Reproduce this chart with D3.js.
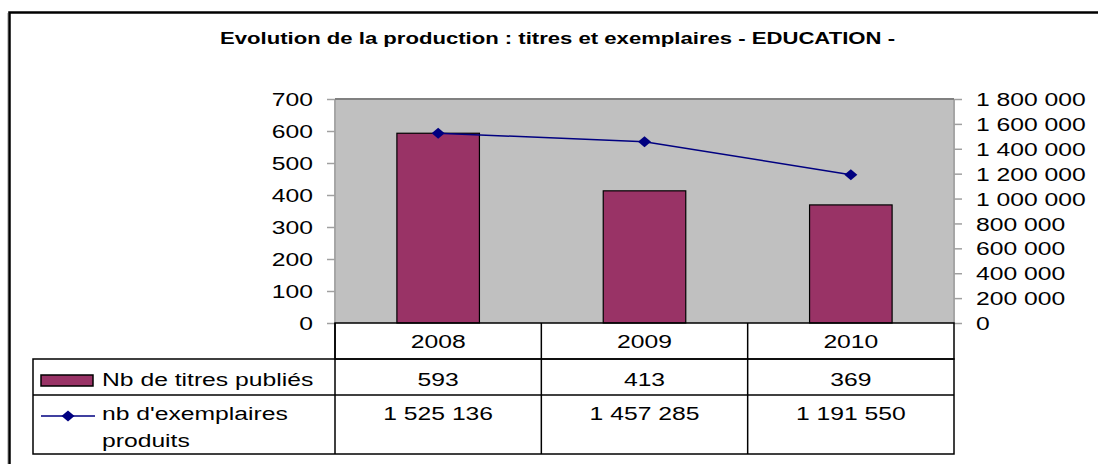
<!DOCTYPE html>
<meta charset="utf-8">
<style>
  body { margin: 0; background: #fff; }
  text { font-family: "Liberation Sans", Arial, sans-serif; fill: #000; }
</style>

<svg width="1098" height="464"></svg>

<script src="https://d3js.org/d3.v7.min.js"></script>
<script>

var years = ["2008", "2009", "2010"]
var titres = [593, 413, 369]
var exemplaires = [1525136, 1457285, 1191550]
var seriesNames = ["Nb de titres publiés", "nb d'exemplaires", "produits"]
var title = "Evolution de la production : titres et exemplaires - EDUCATION -"

var svg = d3.select('svg')
var fr = d3.formatLocale({ decimal: ",", thousands: " ", grouping: [3], currency: ["", " €"] })
var fmt = fr.format(",d")

// excel text looks stretched sideways
var SX = 1.3
function place(sel, x, y) {
  return sel.attr('transform', 'translate(' + x + ',' + y + ') scale(' + SX + ',1)')
}

// outer frame (goes off the picture right and bottom)
svg.append('line').attr('x1', 7.5).attr('x2', 7.5).attr('y1', 13).attr('y2', 464)
  .attr('stroke', '#c8c8c8').attr('stroke-width', 1)
svg.append('rect')
  .attr('x', 9.5).attr('y', 12.5)
  .attr('width', 1200).attr('height', 600)
  .attr('fill', 'none').attr('stroke', '#000').attr('stroke-width', 2.5)

// title is spread out wider than normal
svg.append('text')
  .attr('x', 220).attr('y', 44)
  .attr('font-size', 16.5)
  .attr('font-weight', 'bold')
  .attr('textLength', 675)
  .attr('lengthAdjust', 'spacingAndGlyphs')
  .text(title)

var plotL = 335, plotR = 954, plotT = 99, plotB = 323

var x = d3.scaleBand().domain(years).range([plotL, plotR])
var yL = d3.scaleLinear().domain([0, 700]).range([plotB, plotT])
var yR = d3.scaleLinear().domain([0, 1800000]).range([plotB, plotT])

// plot area
svg.append('rect')
  .attr('x', plotL).attr('y', plotT)
  .attr('width', plotR - plotL).attr('height', plotB - plotT)
  .attr('fill', '#c0c0c0')
svg.append('line').attr('x1', plotL).attr('x2', plotL).attr('y1', plotT).attr('y2', plotB)
  .attr('stroke', '#a6a6a6').attr('stroke-width', 2)
svg.append('line').attr('x1', plotR).attr('x2', plotR).attr('y1', plotT).attr('y2', plotB)
  .attr('stroke', '#a6a6a6').attr('stroke-width', 2)
svg.append('line').attr('x1', plotL).attr('x2', plotR).attr('y1', plotT).attr('y2', plotT)
  .attr('stroke', '#808080').attr('stroke-width', 2)

// axes
var axL = svg.append('g')
  .attr('transform', 'translate(' + plotL + ',0)')
  .call(d3.axisLeft(yL).ticks(7).tickSize(8).tickFormat(fmt))
var axR = svg.append('g')
  .attr('transform', 'translate(' + plotR + ',0)')
  .call(d3.axisRight(yR).ticks(9).tickSize(8).tickFormat(fmt))

;[axL, axR].forEach(function (ax) {
  ax.select('.domain').remove()
  ax.selectAll('.tick line').attr('stroke', '#a0a0a0').attr('stroke-width', 1.5)
})
axL.selectAll('.tick text').each(function () {
  var t = d3.select(this)
  t.attr('x', null).attr('dy', '0.35em').attr('font-size', 19)
  place(t, -22, 0)
})
axR.selectAll('.tick text').each(function () {
  var t = d3.select(this)
  t.attr('x', null).attr('dy', '0.35em').attr('font-size', 19)
  place(t, 22, 0)
})
svg.selectAll('g').attr('font-family', null).attr('font-size', null)

// bars
var bw = x.bandwidth() * 0.4
svg.append('g').selectAll('rect')
  .data(titres)
  .join('rect')
  .attr('x', function (d, i) { return x(years[i]) + (x.bandwidth() - bw) / 2 })
  .attr('y', function (d) { return yL(d) })
  .attr('width', bw)
  .attr('height', function (d) { return plotB - yL(d) })
  .attr('fill', '#993366')
  .attr('stroke', '#000').attr('stroke-width', 1.2)

// line
var cx = function (i) { return x(years[i]) + x.bandwidth() / 2 }
var line = d3.line()
  .x(function (d, i) { return cx(i) })
  .y(function (d) { return yR(d) })
svg.append('path')
  .datum(exemplaires)
  .attr('d', line)
  .attr('fill', 'none')
  .attr('stroke', '#000080').attr('stroke-width', 1.5)

function diamond(g, px, py) {
  g.append('path')
    .attr('d', 'M' + (px - 6.5) + ',' + py + 'L' + px + ',' + (py - 5.5) + 'L' + (px + 6.5) + ',' + py + 'L' + px + ',' + (py + 5.5) + 'Z')
    .attr('fill', '#000080')
}
var marks = svg.append('g')
exemplaires.forEach(function (d, i) { diamond(marks, cx(i), yR(d)) })

// data table
var tabL = 33, r0 = 323, r1 = 359, r2 = 395, r3 = 454
var tbl = svg.append('g').attr('stroke', '#000').attr('stroke-width', 1.5).attr('fill', 'none')
tbl.append('rect').attr('x', plotL).attr('y', r0).attr('width', plotR - plotL).attr('height', r1 - r0)
tbl.append('rect').attr('x', tabL).attr('y', r1).attr('width', plotR - tabL).attr('height', r3 - r1)
tbl.append('line').attr('x1', tabL).attr('x2', plotR).attr('y1', r2).attr('y2', r2)
tbl.selectAll('.col')
  .data(years)
  .join('line')
  .attr('x1', function (d) { return x(d) }).attr('x2', function (d) { return x(d) })
  .attr('y1', r0).attr('y2', r3)

years.forEach(function (yr, i) {
  var mx = cx(i)
  place(svg.append('text'), mx, r0 + 25).attr('text-anchor', 'middle').attr('font-size', 19).text(yr)
  place(svg.append('text'), mx, r1 + 27).attr('text-anchor', 'middle').attr('font-size', 19).text(fmt(titres[i]))
  place(svg.append('text'), mx, r2 + 25).attr('text-anchor', 'middle').attr('font-size', 19).text(fmt(exemplaires[i]))
})

// legend keys
svg.append('rect')
  .attr('x', 41).attr('y', 375).attr('width', 52).attr('height', 11)
  .attr('fill', '#993366').attr('stroke', '#000').attr('stroke-width', 1.5)
svg.append('line')
  .attr('x1', 41).attr('x2', 95).attr('y1', 416).attr('y2', 416)
  .attr('stroke', '#000080').attr('stroke-width', 1.5)
diamond(svg, 68, 416)

place(svg.append('text'), 102, r1 + 27).attr('font-size', 19).text(seriesNames[0])
place(svg.append('text'), 102, r2 + 25).attr('font-size', 19).text(seriesNames[1])
place(svg.append('text'), 102, r2 + 52).attr('font-size', 19).text(seriesNames[2])

</script>
